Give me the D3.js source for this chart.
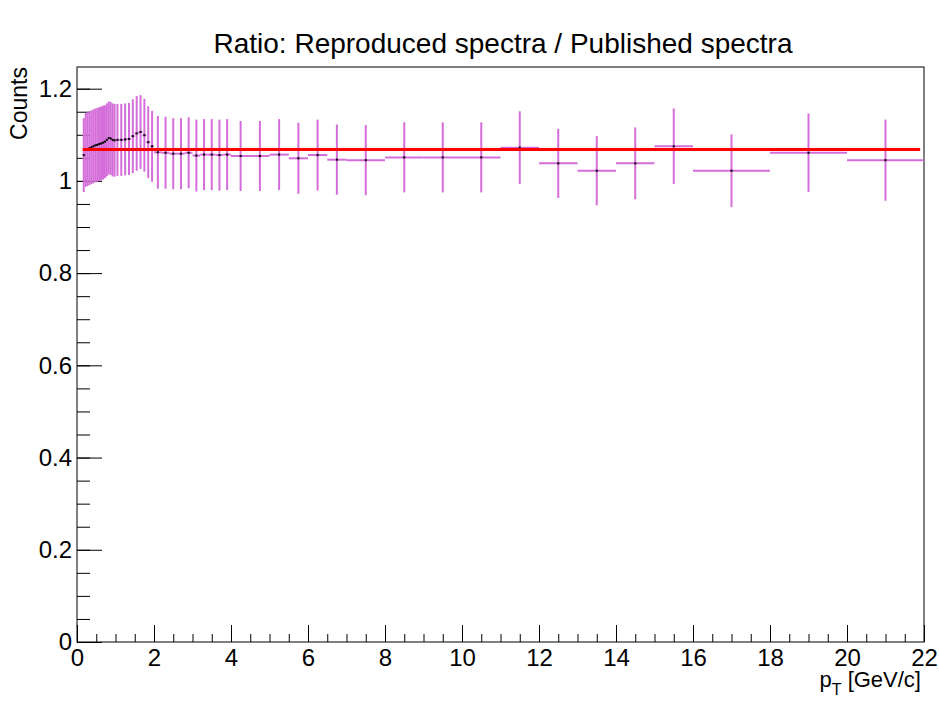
<!DOCTYPE html>
<html>
<head>
<meta charset="utf-8">
<script src="https://cdn.jsdelivr.net/npm/d3@7"></script>
<style>
  body { margin: 0; background: #fff; }
  svg text { font-family: "Liberation Sans", Arial, sans-serif; }
</style>
</head>
<body>
<div id="chart"></div>
<script>
// pT bin edges [GeV/c]
const binEdges = [0.15, 0.2, 0.25, 0.3, 0.35, 0.4, 0.45, 0.5, 0.55, 0.6, 0.65, 0.7, 0.75, 0.8, 0.85, 0.9, 0.95, 1.0,
  1.1, 1.2, 1.3, 1.4, 1.5, 1.6, 1.7, 1.8, 1.9, 2.0,
  2.2, 2.4, 2.6, 2.8, 3.0, 3.2, 3.4, 3.6, 3.8, 4.0,
  4.5, 5.0, 5.5, 6.0, 6.5, 7.0,
  8, 9, 10, 11, 12, 13, 14, 15, 16,
  18, 20, 22];

// ratio per bin
const ratio = [1.056, 1.067, 1.069, 1.071, 1.073, 1.075, 1.077, 1.078, 1.080, 1.081, 1.083, 1.085, 1.089, 1.093, 1.092, 1.089, 1.088,
  1.089, 1.089, 1.090, 1.091, 1.097, 1.103, 1.106, 1.099, 1.084, 1.075,
  1.062, 1.061, 1.059, 1.059, 1.061, 1.055, 1.057, 1.057, 1.056, 1.057,
  1.054, 1.054, 1.057, 1.049, 1.056, 1.046,
  1.045, 1.051, 1.051, 1.051, 1.072, 1.038, 1.022, 1.038, 1.075,
  1.022, 1.061, 1.045];

// error per bin
const ratioErr = [0.080, 0.080, 0.080, 0.080, 0.080, 0.080, 0.080, 0.080, 0.080, 0.080, 0.080, 0.079, 0.079, 0.079, 0.079, 0.079, 0.079,
  0.078, 0.078, 0.078, 0.078, 0.080, 0.081, 0.080, 0.079, 0.078, 0.077,
  0.079, 0.078, 0.077, 0.077, 0.077, 0.078, 0.077, 0.077, 0.077, 0.077,
  0.076, 0.076, 0.077, 0.077, 0.077, 0.076,
  0.076, 0.076, 0.076, 0.076, 0.079, 0.075, 0.075, 0.078, 0.082,
  0.079, 0.085, 0.088];

// constant fit
const fitValue = 1.068;
const fitRange = [0.15, 21.9];

const xTicks = [0, 2, 4, 6, 8, 10, 12, 14, 16, 18, 20, 22];
const yTicks = [0, 0.2, 0.4, 0.6, 0.8, 1, 1.2];

const width = 939, height = 702;
const margin = { top: 67, right: 15, bottom: 60, left: 77 };
const errColor = "#d46dd9";

const bins = ratio.map((v, i) => ({
  lo: binEdges[i],
  hi: binEdges[i + 1],
  mid: (binEdges[i] + binEdges[i + 1]) / 2,
  v: v,
  e: ratioErr[i]
}));

const x = d3.scaleLinear().domain([0, 22]).range([margin.left, width - margin.right]);
const y = d3.scaleLinear().domain([0, 1.247]).range([height - margin.bottom, margin.top]);

const svg = d3.select("#chart").append("svg")
  .attr("width", width)
  .attr("height", height);

// title
svg.append("text")
  .attr("x", 503)
  .attr("y", 53)
  .attr("text-anchor", "middle")
  .style("font-size", "28px")
  .text("Ratio: Reproduced spectra / Published spectra");

// minor ticks
svg.append("g")
  .attr("transform", `translate(0,${y(0)})`)
  .call(d3.axisBottom(x).ticks(44).tickSize(-8).tickFormat(""))
  .call(g => g.select(".domain").remove());
svg.append("g")
  .attr("transform", `translate(${x(0)},0)`)
  .call(d3.axisLeft(y).tickValues(d3.range(0, 1.21, 0.05)).tickSize(-13).tickFormat(""))
  .call(g => g.select(".domain").remove());

// major ticks + labels
svg.append("g")
  .attr("class", "x-axis")
  .attr("transform", `translate(0,${y(0)})`)
  .call(d3.axisBottom(x).tickValues(xTicks).tickSize(-17).tickPadding(7).tickFormat(d3.format("d")))
  .call(g => g.select(".domain").remove())
  .selectAll("text")
    .style("font-size", "24px")
    .attr("fill", "#000");

svg.append("g")
  .attr("class", "y-axis")
  .attr("transform", `translate(${x(0)},0)`)
  .call(d3.axisLeft(y).tickValues(yTicks).tickSize(-25).tickPadding(5).tickFormat(d => d3.format("~g")(d)))
  .call(g => g.select(".domain").remove())
  .selectAll("text")
    .style("font-size", "24px")
    .attr("fill", "#000");

svg.selectAll(".tick line").attr("stroke", "#000");

// frame
svg.append("rect")
  .attr("x", x(0))
  .attr("y", y.range()[1])
  .attr("width", x(22) - x(0))
  .attr("height", y(0) - y.range()[1])
  .attr("fill", "none")
  .attr("stroke", "#000")
  .attr("stroke-width", 1);

// axis titles
svg.append("text")
  .attr("transform", `translate(27,${margin.top}) rotate(-90)`)
  .attr("text-anchor", "end")
  .style("font-size", "23px")
  .text("Counts");

const xt = svg.append("text")
  .attr("x", 921)
  .attr("y", 687)
  .attr("text-anchor", "end")
  .style("font-size", "22px");
xt.append("tspan").text("p");
xt.append("tspan").attr("dy", 8).style("font-size", "16px").text("T");
xt.append("tspan").attr("dy", -8).text(" [GeV/c]");

// error bars
const pts = svg.append("g").attr("class", "points");

pts.selectAll(".hbar")
  .data(bins)
  .enter()
  .append("line")
    .attr("x1", d => x(d.lo))
    .attr("x2", d => x(d.hi))
    .attr("y1", d => y(d.v))
    .attr("y2", d => y(d.v))
    .attr("stroke", errColor)
    .attr("stroke-width", 2);

pts.selectAll(".vbar")
  .data(bins)
  .enter()
  .append("line")
    .attr("x1", d => x(d.mid))
    .attr("x2", d => x(d.mid))
    .attr("y1", d => y(d.v - d.e))
    .attr("y2", d => y(d.v + d.e))
    .attr("stroke", errColor)
    .attr("stroke-width", 2);

// fit line
svg.append("line")
  .attr("x1", x(fitRange[0]))
  .attr("x2", x(fitRange[1]))
  .attr("y1", y(fitValue))
  .attr("y2", y(fitValue))
  .attr("stroke", "#ff0000")
  .attr("stroke-width", 3);

// markers
pts.selectAll(".marker")
  .data(bins)
  .enter()
  .append("rect")
    .attr("x", d => x(d.mid) - 1)
    .attr("y", d => y(d.v) - 1)
    .attr("width", 2)
    .attr("height", 2)
    .attr("fill", "#000");
</script>
</body>
</html>
